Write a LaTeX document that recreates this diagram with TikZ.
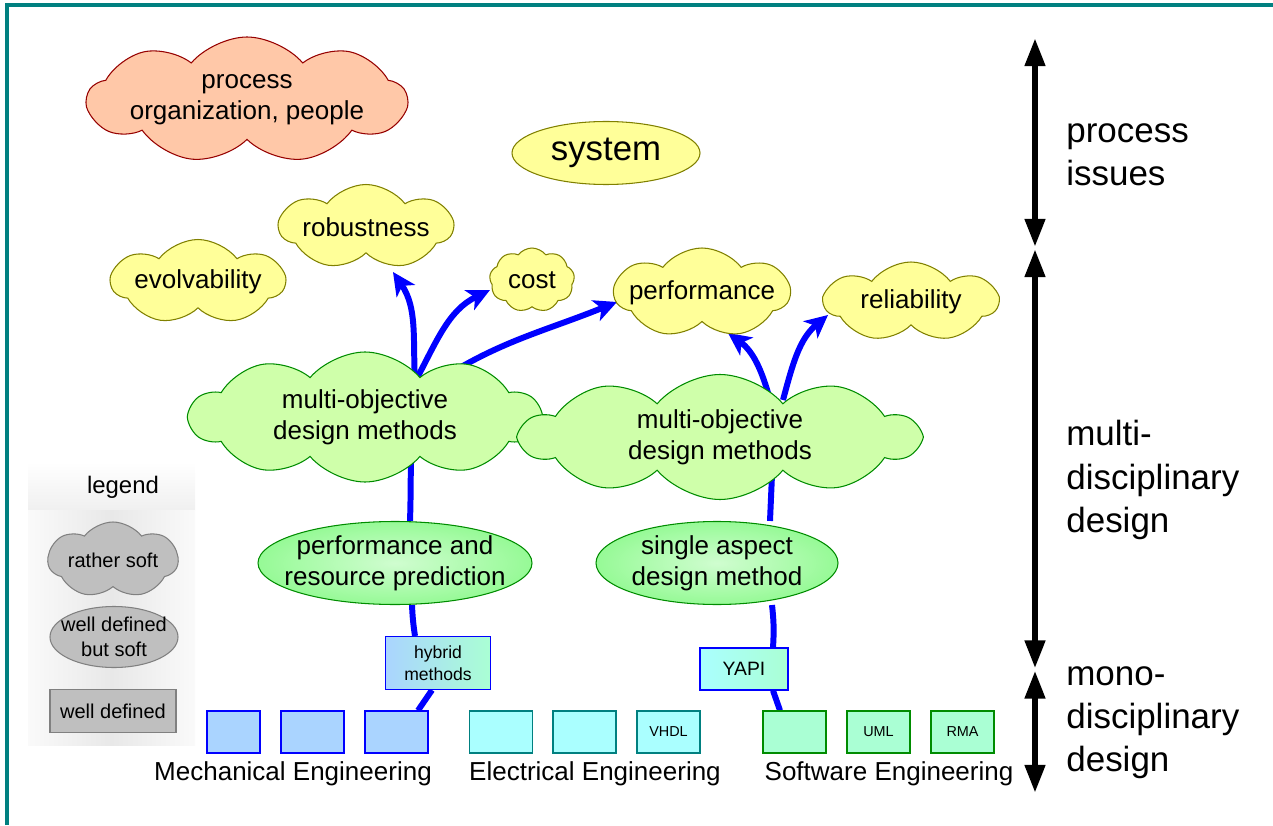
\documentclass[tikz,border=0pt]{standalone}
\usepackage{fontspec}
\setmainfont{Liberation Sans}
\usetikzlibrary{shapes,positioning,calc,backgrounds,arrows.meta}
\tikzset{>=stealth}
\definecolor{frameColor}{RGB}{0,128,128}
\definecolor{treeBlue}{RGB}{0,0,255}
\definecolor{softYellow}{RGB}{255,255,153}
\definecolor{softYellowLine}{RGB}{128,128,0}
\definecolor{softPeach}{RGB}{255,200,168}
\definecolor{softPeachLine}{RGB}{150,0,0}
\definecolor{softGreen}{RGB}{207,255,170}
\definecolor{softGreenLine}{RGB}{0,140,0}
\definecolor{ovalGreen}{RGB}{150,250,150}
\definecolor{mechFill}{RGB}{170,212,255}
\definecolor{elecFill}{RGB}{170,255,255}
\definecolor{softwFill}{RGB}{170,255,212}
\colorlet{legendGray}{black!25}
\tikzset{
  puff/.style={cloud, cloud puffs=7, cloud puff arc=105, cloud ignores aspect,
    draw, line width=0.6pt, inner sep=0pt},
  yellowpuff/.style={puff, fill=softYellow, draw=softYellowLine},
  greenpuff/.style={puff, cloud puffs=10, cloud puff arc=100, fill=softGreen, draw=softGreenLine},
  oval/.style={ellipse, draw, line width=0.6pt, inner sep=0pt},
  greenoval/.style={oval, draw=softGreenLine, inner color=ovalGreen!45!white, outer color=ovalGreen},
  puffText/.style={align=center, font=\fontsize{14.8}{17.6}\selectfont},
  box/.style={rectangle, draw, line width=0.6pt, minimum width=1.26cm,
    minimum height=0.84cm, inner sep=1pt, align=center, font=\fontsize{8.2}{10}\selectfont},
  mechbox/.style={box, fill=mechFill, draw=blue},
  elecbox/.style={box, fill=elecFill, draw=frameColor},
  softwbox/.style={box, fill=softwFill, draw=softGreenLine},
  engText/.style={font=\fontsize{14.8}{17.6}\selectfont},
  sideText/.style={anchor=west, inner sep=0pt, align=left, font=\fontsize{19.9}{24.5}\selectfont},
  lgText/.style={align=center, font=\fontsize{11.4}{14.2}\selectfont},
  tree/.style={draw=treeBlue, line width=3.4pt},
  treetip/.style={tree, -{Stealth[length=13pt,width=12.5pt,inset=3.5pt]}},
  levelbar/.style={line width=3.6pt, {Triangle[length=16pt,width=11pt]}-{Triangle[length=16pt,width=11pt]}}
}

\begin{document}
\begin{tikzpicture}
  \useasboundingbox (0,0) rectangle (25.46,16.5);
  \draw[frameColor, line width=1.8pt] (0.14,0) -- (0.14,16.4) -- (25.46,16.4);

  % legend panel
  \begin{scope}[on background layer]
    \shade[top color=white, bottom color=gray!12] (0.56,6.3) rectangle (3.9,7.26);
    \shade[left color=gray!4, right color=gray!4, middle color=gray!18] (0.56,1.6) rectangle (3.9,6.3);
  \end{scope}
  \node[font=\fontsize{13.6}{16}\selectfont] (lgTitle) at (2.46,6.76) {legend};
  \node[puff, fill=legendGray, draw=gray, minimum width=2.6cm, minimum height=1.52cm,
    label={[lgText]center:rather soft}] (lgCloud) at (2.26,5.3) {};
  \node[oval, fill=legendGray, draw=gray, minimum width=2.56cm, minimum height=1.22cm,
    label={[lgText]center:well defined\\but soft}] (lgOval) at (2.28,3.76) {};
  \node[box, fill=legendGray, draw=gray, minimum width=2.52cm, minimum height=0.86cm,
    font=\fontsize{11.4}{14}\selectfont] (lgBox) at (2.26,2.28) {well defined};

  % soft clouds
  \node[puff, cloud puffs=9, cloud puff arc=100, fill=softPeach, draw=softPeachLine,
    minimum width=6.38cm, minimum height=2.52cm,
    label={[puffText]center:process\\organization, people}] (proc) at (4.94,14.5) {};
  \node[oval, fill=softYellow, draw=softYellowLine, minimum width=3.76cm, minimum height=1.26cm,
    font=\fontsize{19.8}{22}\selectfont] (sys) at (12.12,13.44) {system};
  \node[yellowpuff, minimum width=3.46cm, minimum height=1.7cm,
    label={[puffText]center:robustness}] (robust) at (7.32,11.96) {};
  \node[yellowpuff, minimum width=3.46cm, minimum height=1.7cm,
    label={[puffText]center:evolvability}] (evolv) at (3.96,10.86) {};
  \node[yellowpuff, cloud puffs=9, minimum width=1.7cm, minimum height=1.28cm,
    label={[puffText]center:cost}] (cost) at (10.64,10.9) {};
  \node[yellowpuff, minimum width=3.5cm, minimum height=1.8cm,
    label={[puffText]center:performance}] (perf) at (14.04,10.64) {};
  \node[yellowpuff, minimum width=3.46cm, minimum height=1.6cm,
    label={[puffText]center:reliability}] (reliab) at (18.22,10.46) {};
  \node[greenpuff, minimum width=7cm, minimum height=2.6cm,
    label={[puffText]center:multi-objective\\design methods}] (moL) at (7.3,8.16) {};
  \node[greenpuff, minimum width=7.94cm, minimum height=2.5cm,
    label={[puffText]center:multi-objective\\design methods}] (moR) at (14.4,7.76) {};

  % well defined but soft
  \node[greenoval, minimum width=5.48cm, minimum height=1.66cm,
    label={[puffText]center:performance and\\resource prediction}] (perfpred) at (7.9,5.24) {};
  \node[greenoval, minimum width=4.84cm, minimum height=1.66cm,
    label={[puffText]center:single aspect\\design method}] (single) at (14.34,5.24) {};

  % well defined
  \node[box, draw=blue, left color=mechFill, right color=softwFill, minimum width=2.1cm,
    minimum height=1.06cm, font=\fontsize{10}{12.5}\selectfont] (hybrid) at (8.76,3.24) {hybrid\\methods};
  \node[box, draw=blue, left color=elecFill, right color=softwFill, minimum width=1.76cm,
    font=\fontsize{11}{13}\selectfont] (yapi) at (14.88,3.12) {YAPI};
  \node[mechbox, minimum width=1.06cm] (mech1) at (4.67,1.86) {};
  \node[mechbox] (mech2) at (6.25,1.86) {};
  \node[mechbox] (mech3) at (7.93,1.86) {};
  \node[elecbox] (elec1) at (10.02,1.86) {};
  \node[elecbox] (elec2) at (11.69,1.86) {};
  \node[elecbox] (vhdl) at (13.37,1.86) {VHDL};
  \node[softwbox] (soft1) at (15.89,1.86) {};
  \node[softwbox] (uml) at (17.57,1.86) {UML};
  \node[softwbox] (rma) at (19.25,1.86) {RMA};
  \node[engText] (mechLab) at (5.86,1.02) {Mechanical Engineering};
  \node[engText] (elecLab) at (11.9,1.02) {Electrical Engineering};
  \node[engText] (softLab) at (17.78,1.02) {Software Engineering};

  % blue trees
  \begin{scope}[on background layer]
    \draw[tree] ($(mech3.north)+(0.43,0)$) -- ($(hybrid.south)+(-0.12,0)$);
    \draw[tree] ($(hybrid.north)+(-0.46,0)$) to[bend left=3] ($(perfpred.south)+(0.34,0)$);
    \draw[tree] ($(perfpred.north)+(0.3,0)$) to[out=88,in=-95] ($(moL.center)+(0.96,-0.2)$);
    \draw[treetip] ($(moL.center)+(1.0,0.7)$) to[out=93,in=-56] ($(robust.center)+(0.54,-0.9)$);
    \draw[treetip] ($(moL.center)+(1.0,0.7)$) to[out=62,in=206] ($(cost.center)+(-0.84,-0.2)$);
    \draw[treetip] ($(moL.center)+(1.2,0.54)$) to[out=35,in=202] ($(perf.center)+(-1.7,-0.18)$);
    \draw[tree] ($(soft1.north)+(-0.29,0)$) -- ($(yapi.south)+(0.58,0)$);
    \draw[tree] ($(yapi.north)+(0.58,0)$) to[bend right=5] ($(single.south)+(1.1,0)$);
    \draw[tree] ($(single.north)+(1.06,0)$) -- ($(moR.center)+(1.06,-0.3)$);
    \draw[treetip] ($(moR.center)+(1.0,0.74)$) to[out=105,in=-36] ($(perf.center)+(0.52,-0.8)$);
    \draw[treetip] ($(moR.center)+(1.26,0.74)$) to[out=75,in=220] ($(reliab.center)+(-1.66,-0.26)$);
  \end{scope}

  % level bars
  \coordinate (s1) at (20.7,15.74);
  \coordinate (s2) at (20.7,11.56);
  \coordinate (s3) at (20.7,11.52);
  \coordinate (s4) at (20.7,3.13);
  \coordinate (s5) at (20.7,3.09);
  \coordinate (s6) at (20.7,0.64);
  \draw[levelbar] (s1) -- (s2);
  \draw[levelbar] (s3) -- (s4);
  \draw[levelbar] (s5) -- (s6);
  \node[sideText] (procIss) at (21.32,13.41) {process\\issues};
  \node[sideText] (multiD) at (21.32,6.9) {multi-\\disciplinary\\design};
  \node[sideText] (monoD) at (21.32,2.05) {mono-\\disciplinary\\design};
\end{tikzpicture}
\end{document}
